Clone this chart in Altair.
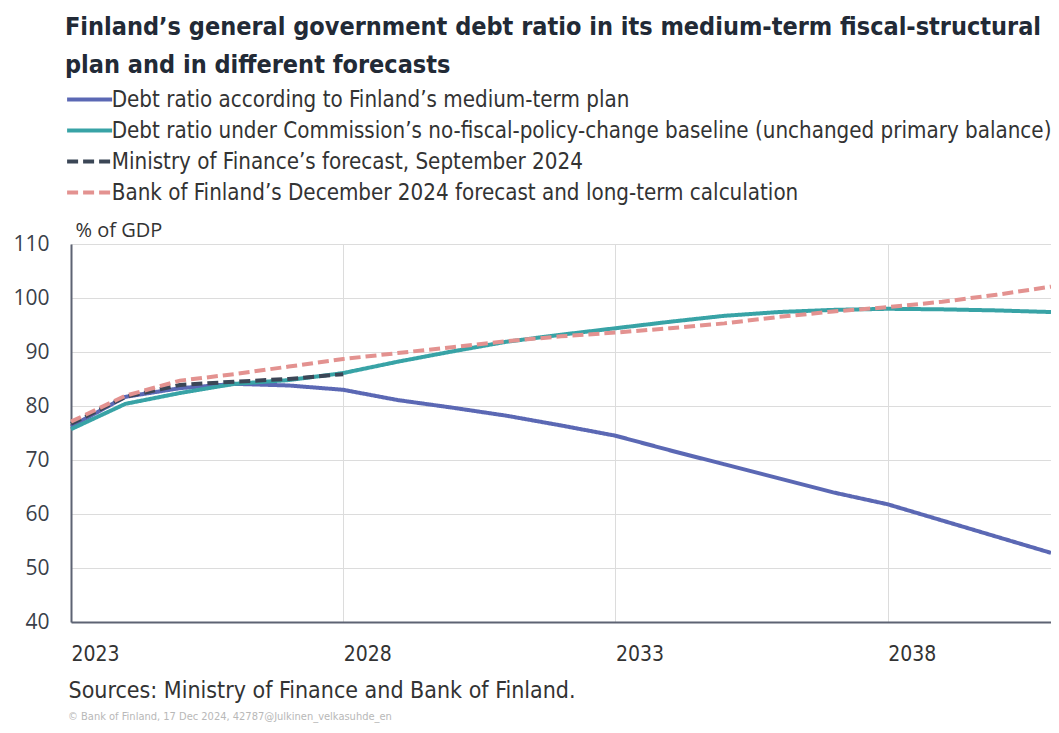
import altair as alt
import pandas as pd

years = list(range(2023, 2042))
plan = [76.2, 81.7, 83.3, 84.1, 83.8, 83.0, 81.1, 79.7, 78.2, 76.4, 74.5, 71.8,
        69.2, 66.6, 64.0, 61.8, 58.8, 55.8, 52.8]
commission = [75.7, 80.4, 82.4, 84.1, 84.8, 86.1, 88.2, 90.1, 91.9, 93.2, 94.4,
              95.6, 96.7, 97.4, 97.8, 98.0, 97.9, 97.7, 97.4]
mof_years = list(range(2023, 2029))
mof = [76.7, 81.7, 83.9, 84.5, 85.0, 85.9]
bof = [77.1, 81.9, 84.7, 85.9, 87.3, 88.7, 89.8, 90.9, 92.0, 92.9, 93.6, 94.4,
       95.3, 96.5, 97.5, 98.3, 99.3, 100.6, 102.1]

series_names = [
    "Debt ratio according to Finland’s medium-term plan",
    "Debt ratio under Commission’s no-fiscal-policy-change  baseline (unchanged primary balance)",
    "Ministry of Finance’s forecast, September 2024",
    "Bank of Finland’s December 2024 forecast and long-term calculation",
]
series_colors = ["#5b68b4", "#38a3a6", "#3b4656", "#e39290"]
series_dash = [[1, 0], [1, 0], [11, 5], [11, 5]]
x_ticks = [2023, 2028, 2033, 2038]
y_ticks = [40, 50, 60, 70, 80, 90, 100, 110]

title_lines = ["Finland’s general government debt ratio in its medium-term fiscal-structural",
               "plan and in different forecasts"]
y_unit = "% of GDP"
source_note = "Sources: Ministry of Finance and Bank of Finland."
copyright_note = "© Bank of Finland, 17 Dec 2024, 42787@Julkinen_velkasuhde_en"

rows = []
for name, xs, ys in [(series_names[0], years, plan),
                     (series_names[1], years, commission),
                     (series_names[2], mof_years, mof),
                     (series_names[3], years, bof)]:
    for x, y in zip(xs, ys):
        rows.append({"year": x, "value": y, "series": name,
                     "order": series_names.index(name)})
df = pd.DataFrame(rows)

NARROW = "Liberation Sans Narrow, Arial Narrow, DejaVu Sans Condensed, sans-serif"
WIDE = "Open Sans, DejaVu Sans, sans-serif"

lines = alt.Chart(df).mark_line(strokeWidth=4, strokeCap="butt").encode(
    x=alt.X("year:Q",
            scale=alt.Scale(domain=[2023, 2041], nice=False, zero=False),
            axis=alt.Axis(values=x_ticks, format="d", labelAlign="left",
                          labelBaseline="top", labelPadding=21, labelFontSize=21,
                          labelFont=NARROW, labelColor="#333333", ticks=False,
                          domainColor="#5d6373", domainWidth=2,
                          gridColor="#dcdcdc", gridWidth=1,
                          title=source_note, titleFont=NARROW, titleFontSize=23,
                          titleFontWeight="normal", titleColor="#333333",
                          titleAnchor="start", titleAlign="left",
                          titleBaseline="alphabetic", titleX=-3, titleY=75)),
    y=alt.Y("value:Q",
            scale=alt.Scale(domain=[40, 110], nice=False, zero=False),
            axis=alt.Axis(values=y_ticks, labelFontSize=21, labelFont=WIDE,
                          labelColor="#3a3f4a", labelPadding=22, ticks=False,
                          domainColor="#5d6373", domainWidth=2,
                          gridColor="#dcdcdc", gridWidth=1,
                          title=y_unit, titleAngle=0, titleFont=WIDE,
                          titleFontSize=20, titleFontWeight="normal",
                          titleColor="#333333", titleAlign="left",
                          titleBaseline="alphabetic", titleX=4, titleY=-8)),
    color=alt.Color("series:N",
                    scale=alt.Scale(domain=series_names, range=series_colors),
                    legend=alt.Legend(title=None)),
    strokeDash=alt.StrokeDash("series:N",
                              scale=alt.Scale(domain=series_names, range=series_dash),
                              legend=alt.Legend(title=None)),
    order="order:Q",
    detail="series:N",
)

note = alt.Chart(pd.DataFrame({"note": [copyright_note]})).mark_text(
    align="left", baseline="middle", fontSize=11, font=NARROW, color="#b8b8b8"
).encode(text="note:N", x=alt.value(-3), y=alt.value(473))

chart = alt.layer(lines, note).properties(
    width=980, height=378,
    autosize=alt.AutoSizeParams(type="none"),
    padding={"left": 63, "top": 236, "right": 0, "bottom": 103},
    title=alt.TitleParams(text=title_lines, anchor="start", frame="group",
                          font=NARROW, fontSize=25, fontWeight="bold",
                          color="#222a36", lineHeight=38, dx=-6, offset=11),
).configure_view(stroke="#e3e3e3").configure_legend(
    orient="none", legendX=7.5, legendY=-155.5, padding=0,
    symbolType="M-2.5,0H2.5", symbolSize=324, symbolStrokeWidth=4,
    labelOffset=11, labelFont=NARROW, labelFontSize=22.2, labelColor="#333333",
    labelLimit=1000, rowPadding=8, columns=1,
)

chart.save("out.html", embed_options={"renderer": "svg", "actions": False})
